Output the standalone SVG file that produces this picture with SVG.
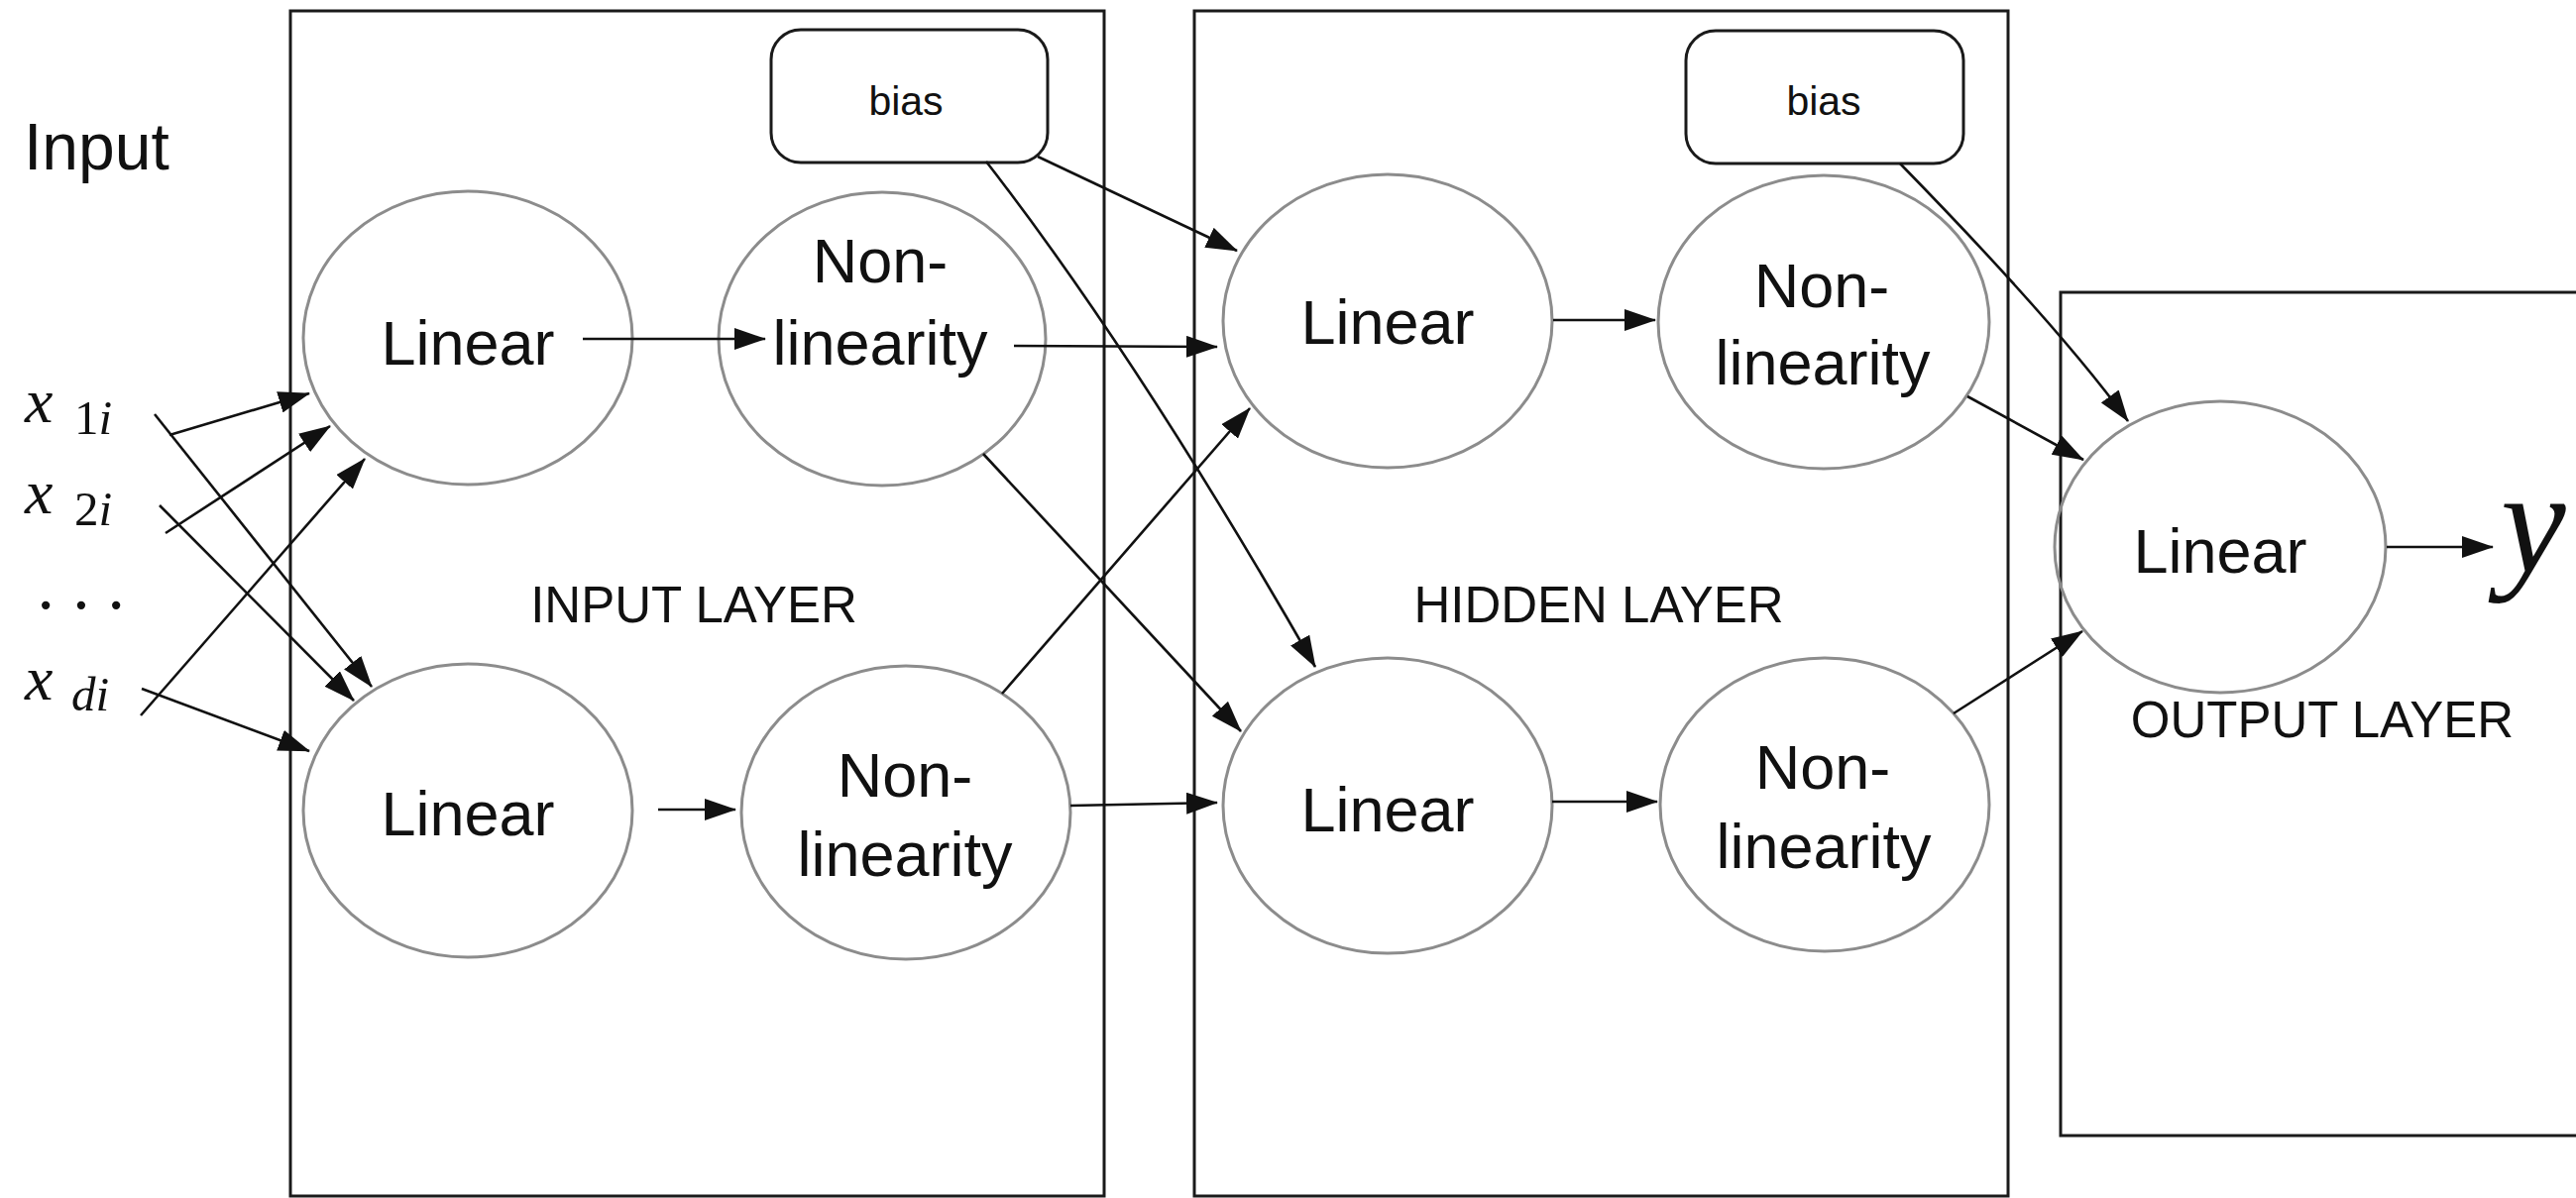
<svg xmlns="http://www.w3.org/2000/svg" width="2599" height="1209" viewBox="0 0 2599 1209">
<style>
.box{fill:none;stroke:#1a1a1a;stroke-width:3}
.bias{fill:#fff;stroke:#1a1a1a;stroke-width:3}
.node{fill:none;stroke:#8c8c8c;stroke-width:3}
.lbl{font-family:"Liberation Sans",Arial,sans-serif;font-size:63px;fill:#111;text-anchor:middle}
.small{font-family:"Liberation Sans",Arial,sans-serif;font-size:41px;fill:#111;text-anchor:middle}
.layer{font-family:"Liberation Sans",Arial,sans-serif;font-size:51px;fill:#111;text-anchor:middle}
.math{font-family:"Liberation Serif","Times New Roman",serif;fill:#111}
.edge{fill:none;stroke:#111;stroke-width:2.6}
</style>
<defs>
<marker id="ah" markerUnits="userSpaceOnUse" markerWidth="32" markerHeight="22" refX="31" refY="11" orient="auto">
<path d="M0,0 L32,11 L0,22 Z" fill="#111"/>
</marker>
</defs>

<g id="input-layer">
<rect class="box" x="293" y="11" width="821" height="1196"/>
<text class="layer" x="700" y="628">INPUT LAYER</text>
</g>
<g id="hidden-layer">
<rect class="box" x="1205" y="11" width="821" height="1196"/>
<text class="layer" x="1613" y="628">HIDDEN LAYER</text>
</g>
<g id="output-layer">
<rect class="box" x="2079" y="295" width="600" height="851"/>
<text class="layer" x="2343" y="744">OUTPUT LAYER</text>
</g>

<g id="input-label">
<text x="24" y="171" style="font-family:'Liberation Sans',Arial,sans-serif;font-size:66px;fill:#111">Input</text>
</g>
<g id="x1i">
<text class="math" x="25" y="426" font-size="64" font-style="italic">x</text>
<text class="math" x="75" y="438" font-size="49">1<tspan font-style="italic">i</tspan></text>
</g>
<g id="x2i">
<text class="math" x="25" y="518" font-size="64" font-style="italic">x</text>
<text class="math" x="75" y="530" font-size="49">2<tspan font-style="italic">i</tspan></text>
</g>
<g id="dots">
<text class="math" x="34.5 70.3 105.5" y="634" font-size="70">···</text>
</g>
<g id="xdi">
<text class="math" x="25" y="706" font-size="64" font-style="italic">x</text>
<text class="math" x="72" y="717" font-size="49" font-style="italic">di</text>
</g>

<g id="bias1">
<rect class="bias" x="778" y="30" width="279" height="134" rx="30" ry="30"/>
<text class="small" x="914" y="116">bias</text>
</g>
<g id="bias2">
<rect class="bias" x="1701" y="31" width="280" height="134" rx="30" ry="30"/>
<text class="small" x="1840" y="116">bias</text>
</g>

<g id="in-linear-1">
<ellipse class="node" cx="472" cy="341" rx="166" ry="148"/>
<text class="lbl" x="472" y="368">Linear</text>
</g>
<g id="in-nonlin-1">
<ellipse class="node" cx="890" cy="342" rx="165" ry="148"/>
<text class="lbl" x="888" y="285">Non-</text>
<text class="lbl" x="888" y="368">linearity</text>
</g>
<g id="in-linear-2">
<ellipse class="node" cx="472" cy="818" rx="166" ry="148"/>
<text class="lbl" x="472" y="843">Linear</text>
</g>
<g id="in-nonlin-2">
<ellipse class="node" cx="914" cy="820" rx="166" ry="148"/>
<text class="lbl" x="913" y="804">Non-</text>
<text class="lbl" x="913" y="884">linearity</text>
</g>
<g id="hid-linear-1">
<ellipse class="node" cx="1400" cy="324" rx="166" ry="148"/>
<text class="lbl" x="1400" y="347">Linear</text>
</g>
<g id="hid-nonlin-1">
<ellipse class="node" cx="1840" cy="325" rx="167" ry="148"/>
<text class="lbl" x="1838" y="310">Non-</text>
<text class="lbl" x="1839" y="388">linearity</text>
</g>
<g id="hid-linear-2">
<ellipse class="node" cx="1400" cy="813" rx="166" ry="149"/>
<text class="lbl" x="1400" y="839">Linear</text>
</g>
<g id="hid-nonlin-2">
<ellipse class="node" cx="1841" cy="812" rx="166" ry="148"/>
<text class="lbl" x="1839" y="796">Non-</text>
<text class="lbl" x="1840" y="876">linearity</text>
</g>
<g id="out-linear">
<ellipse class="node" cx="2240" cy="552" rx="167" ry="147"/>
<text class="lbl" x="2240" y="578">Linear</text>
</g>
<g id="y-output">
<text class="math" x="2523" y="577" font-size="148" font-style="italic">y</text>
</g>

<g id="connectors">
<line class="edge" x1="171" y1="439" x2="312" y2="397" marker-end="url(#ah)"/>
<line class="edge" x1="156" y1="418" x2="375" y2="693" marker-end="url(#ah)"/>
<line class="edge" x1="167" y1="538" x2="333" y2="430" marker-end="url(#ah)"/>
<line class="edge" x1="161" y1="510" x2="357" y2="707" marker-end="url(#ah)"/>
<line class="edge" x1="142" y1="722" x2="368" y2="463" marker-end="url(#ah)"/>
<line class="edge" x1="143" y1="695" x2="312" y2="758" marker-end="url(#ah)"/>
<line class="edge" x1="588" y1="342" x2="772" y2="342" marker-end="url(#ah)"/>
<line class="edge" x1="664" y1="817" x2="742" y2="817" marker-end="url(#ah)"/>
<line class="edge" x1="1023" y1="349" x2="1228" y2="350" marker-end="url(#ah)"/>
<line class="edge" x1="1080" y1="813" x2="1228" y2="810" marker-end="url(#ah)"/>
<line class="edge" x1="992" y1="458" x2="1252" y2="738" marker-end="url(#ah)"/>
<line class="edge" x1="1011" y1="700" x2="1261" y2="412" marker-end="url(#ah)"/>
<line class="edge" x1="1047" y1="158" x2="1248" y2="253" marker-end="url(#ah)"/>
<path class="edge" d="M995,163 Q1148,360 1327,673" marker-end="url(#ah)"/>
<line class="edge" x1="1567" y1="323" x2="1670" y2="323" marker-end="url(#ah)"/>
<line class="edge" x1="1566" y1="809" x2="1672" y2="809" marker-end="url(#ah)"/>
<line class="edge" x1="1985" y1="400" x2="2102" y2="464" marker-end="url(#ah)"/>
<line class="edge" x1="1971" y1="720" x2="2101" y2="637" marker-end="url(#ah)"/>
<path class="edge" d="M1917,165 Q2078,330 2147,425" marker-end="url(#ah)"/>
<line class="edge" x1="2408" y1="552" x2="2515" y2="552" marker-end="url(#ah)"/>
</g>
</svg>
